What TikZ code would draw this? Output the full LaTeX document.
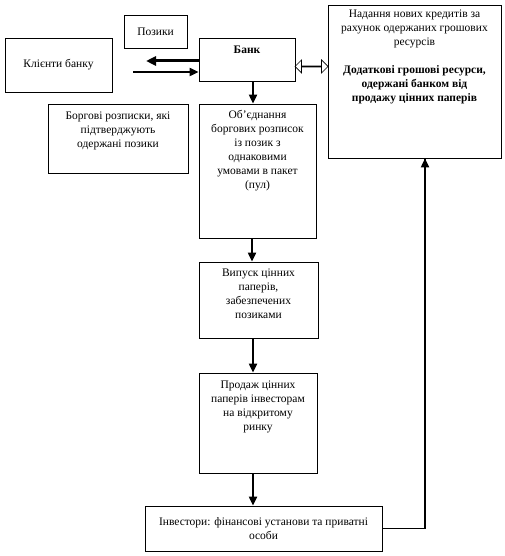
\documentclass[tikz,border=0pt]{standalone}
\usepackage{fontspec}
\setmainfont{Liberation Serif}
\usetikzlibrary{arrows.meta,shapes.arrows}
\begin{document}
\begin{tikzpicture}[x=1pt,y=-1pt,
 box/.style={draw,line width=0.8pt,inner sep=0pt},
 txt/.style={inner sep=0pt,align=center,font=\fontsize{11.5}{14}\selectfont},
 arr/.style={line width=2pt,-{Triangle[length=9pt,width=8pt]}},
 line/.style={line width=1.2pt}]
\useasboundingbox (0,0) rectangle (504,556);
% boxes
\node[box,txt,minimum width=107pt,minimum height=54pt] (kl) at (58.5,65) {Клієнти банку};
\node[box,txt,minimum width=63pt,minimum height=33pt] (poz) at (155.5,31.5) {Позики};
\node[box,minimum width=96pt,minimum height=43pt] (bank) at (247,59.5) {};
\node[txt,anchor=north] (bankt) at ([yshift=-8pt]bank.north) {\textbf{Банк}};
\node[box,minimum width=140pt,minimum height=69pt] (borg) at (118,138.5) {};
\node[txt,anchor=north] (borgt) at ([yshift=-8pt]borg.north) {Боргові розписки, які\\підтверджують\\одержані позики};
\node[box,minimum width=117pt,minimum height=134pt] (ob) at (257.5,171) {};
\node[txt,anchor=north] (obt) at ([yshift=-6pt]ob.north) {Об’єднання\\боргових розписок\\із позик з\\однаковими\\умовами в пакет\\(пул)};
\node[box,minimum width=173pt,minimum height=153pt] (res) at (414.5,81.5) {};
\node[txt,anchor=north] (rest) at ([yshift=-5pt]res.north) {Надання нових кредитів за\\рахунок одержаних грошових\\ресурсів\\[14pt]\textbf{Додаткові грошові ресурси,}\\\textbf{одержані банком від}\\\textbf{продажу цінних паперів}};
\node[box,minimum width=119pt,minimum height=76pt] (vyp) at (258.5,300) {};
\node[txt,anchor=north] (vypt) at ([yshift=-7pt]vyp.north) {Випуск цінних\\паперів,\\забезпечених\\позиками};
\node[box,minimum width=118pt,minimum height=100pt] (prod) at (258,423) {};
\node[txt,anchor=north] (prodt) at ([yshift=-8pt]prod.north) {Продаж цінних\\паперів інвесторам\\на відкритому\\ринку};
\node[box,txt,minimum width=237pt,minimum height=45pt] (inv) at (263.5,528.5) {Інвестори: фінансові установи та приватні\\особи};
% double arrow
\node[draw,line width=0.7pt,double arrow,double arrow head extend=3.5pt,minimum width=13pt,minimum height=33pt,inner sep=0pt] (dbl) at (311.5,66.5) {};
% connectors
\coordinate (klin) at (146,61);
\coordinate (klout) at (133,72);
\draw[line width=3pt,-{Triangle[length=10pt,width=9pt]}] ([yshift=-1.5pt]bank.west) -- (klin);
\draw[arr] (klout) -- ([yshift=-12.5pt]bank.west);
\draw[arr] ([xshift=6pt]bank.south) -- ([xshift=6pt]bank.south |- ob.north);
\draw[arr] ([xshift=-5.5pt]ob.south) -- ([xshift=-5.5pt]ob.south |- vyp.north);
\draw[arr] ([xshift=-5.5pt]vyp.south) -- ([xshift=-5.5pt]vyp.south |- prod.north);
\draw[arr] ([xshift=-5pt]prod.south) -- ([xshift=-5pt]prod.south |- inv.north);
\draw[line] (inv.east) -| ([xshift=10.5pt]res.south);
\draw[arr] ([xshift=10.5pt,yshift=-100pt]res.south) -- ([xshift=10.5pt]res.south);
\end{tikzpicture}
\end{document}
